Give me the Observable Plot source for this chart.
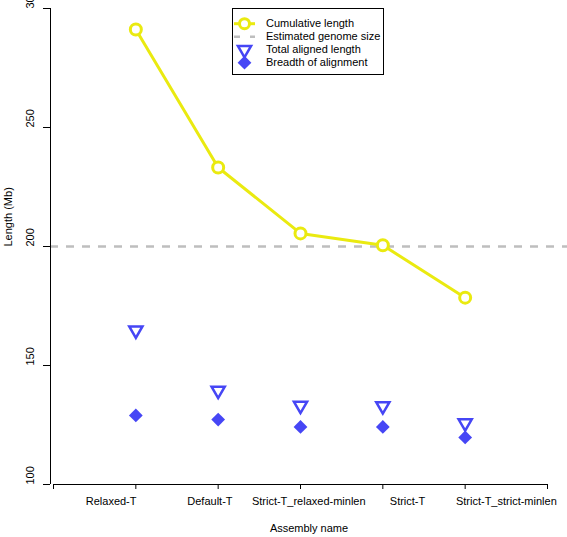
<!DOCTYPE html>
<html><head><meta charset="utf-8">
<script src="https://cdn.jsdelivr.net/npm/d3@7"></script>
<script src="https://cdn.jsdelivr.net/npm/@observablehq/plot@0.6"></script>
<style>
body{margin:0;background:#fff;}
#wrap{position:relative;width:567px;height:537px;font-family:"Liberation Sans",Arial,sans-serif;}
#legend{position:absolute;left:232px;top:8px;width:152px;height:67px;border:1px solid #000;background:#fff;box-sizing:border-box;}
</style></head><body><div id="wrap"></div>
<script>
const assemblies = ["Relaxed-T", "Default-T", "Strict-T_relaxed-minlen", "Strict-T", "Strict-T_strict-minlen"];
const positions = [1, 2, 3, 4, 5];
const cumulativeLength = [291.2, 233.2, 205.5, 200.5, 178.5];
const totalAlignedLength = [164.8, 139.5, 133.2, 133.0, 125.8];
const breadthOfAlignment = [129.0, 127.3, 124.2, 124.2, 119.8];
const genomeSize = 200;
const xTicks = [0, 1, 2, 3, 4, 5, 6];
const labelPositions = [0.7, 1.9, 3.1, 4.3, 5.5];
const yTicks = [100, 150, 200, 250, 300];
const legendItems = ["Cumulative length", "Estimated genome size", "Total aligned length", "Breadth of alignment"];

const YELLOW = "#eaea10";
const BLUE = "#4646f5";
const GREY = "#bebebe";
const FONT = '"Liberation Sans", Arial, Helvetica, sans-serif';

const data = assemblies.map((a, i) => ({
  name: a, pos: positions[i], cum: cumulativeLength[i], tot: totalAlignedLength[i], br: breadthOfAlignment[i]
}));
const labels = assemblies.map((a, i) => ({name: a, pos: labelPositions[i]}));

const chart = Plot.plot({
  width: 567, height: 537,
  marginLeft: 50, marginRight: 0, marginTop: 8, marginBottom: 53,
  style: {fontFamily: FONT, fontSize: "11px", background: "white", color: "black"},
  x: {domain: [0, 6], range: [53, 547], axis: null},
  y: {domain: [100, 300], range: [484, 8], axis: null},
  marks: [
    Plot.ruleY([genomeSize], {stroke: GREY, strokeWidth: 2.5, strokeDasharray: "8,8"}),
    Plot.line(data, {x: "pos", y: "cum", stroke: YELLOW, strokeWidth: 3}),
    Plot.dot(data, {x: "pos", y: "cum", r: 5.5, stroke: YELLOW, fill: "white", strokeWidth: 3}),
    Plot.dot(data, {x: "pos", y: "tot", symbol: "triangle", rotate: 180, r: 4.9, stroke: BLUE, fill: "none", strokeWidth: 2.5}),
    Plot.dot(data, {x: "pos", y: "br", symbol: "diamond2", r: 6.2, fill: BLUE, stroke: "none"}),
    // axes
    Plot.ruleX([0], {y1: 100, y2: 300, dx: -3, stroke: "black", strokeWidth: 1}),
    Plot.ruleY([100], {x1: 0, x2: 6, stroke: "black", strokeWidth: 1}),
    Plot.axisY(yTicks, {anchor: "left", tickSize: 7, fill: "none", label: null, stroke: "black"}),
    Plot.axisX(xTicks, {anchor: "bottom", tickSize: 5, fill: "none", label: null, stroke: "black"}),
    Plot.text(yTicks, {y: d => d, text: d => String(d), frameAnchor: "left", dx: -20, rotate: -90, fontSize: 11, fill: "black"}),
    Plot.text(labels, {x: "pos", text: "name", frameAnchor: "bottom", dy: 20, fontSize: 11, fill: "black"}),
    Plot.text(["Assembly name"], {text: d => d, frameAnchor: "bottom", dy: 47, fontSize: 11, fill: "black"}),
    Plot.text(["Length (Mb)"], {text: d => d, frameAnchor: "left", dx: -42, rotate: -90, fontSize: 11, fill: "black"})
  ]
});

const wrap = document.getElementById("wrap");
wrap.appendChild(chart);

// legend overlay
const legend = document.createElement("div");
legend.id = "legend";
const ns = "http://www.w3.org/2000/svg";
const svg = document.createElementNS(ns, "svg");
svg.setAttribute("width", 150); svg.setAttribute("height", 65);
svg.style.display = "block";
const rowY = [14.7, 27.7, 40.7, 53.7];
function el(tag, attrs) { const e = document.createElementNS(ns, tag); for (const k in attrs) e.setAttribute(k, attrs[k]); svg.appendChild(e); return e; }
// cumulative length: line + circle
el("line", {x1: 1, x2: 22, y1: rowY[0], y2: rowY[0], stroke: YELLOW, "stroke-width": 3});
el("circle", {cx: 11.5, cy: rowY[0], r: 5, fill: "white", stroke: YELLOW, "stroke-width": 3});
// genome size dashed
el("line", {x1: 1, x2: 22, y1: rowY[1], y2: rowY[1], stroke: GREY, "stroke-width": 2.5, "stroke-dasharray": "6,10"});
// triangle down
const sym = d3.symbol();
el("path", {d: sym.type(d3.symbolTriangle).size(Math.PI * 4.9 * 4.9)(), transform: `translate(11.5,${rowY[2]}) rotate(180)`, fill: "none", stroke: BLUE, "stroke-width": 2.5});
el("path", {d: sym.type(d3.symbolDiamond2).size(Math.PI * 6.2 * 6.2)(), transform: `translate(11.5,${rowY[3]})`, fill: BLUE});
legendItems.forEach((t, i) => {
  const tx = el("text", {x: 33, y: rowY[i], "dominant-baseline": "middle", "font-size": 11, "font-family": FONT, fill: "black"});
  tx.textContent = t;
});
legend.appendChild(svg);
wrap.appendChild(legend);
</script></body></html>
